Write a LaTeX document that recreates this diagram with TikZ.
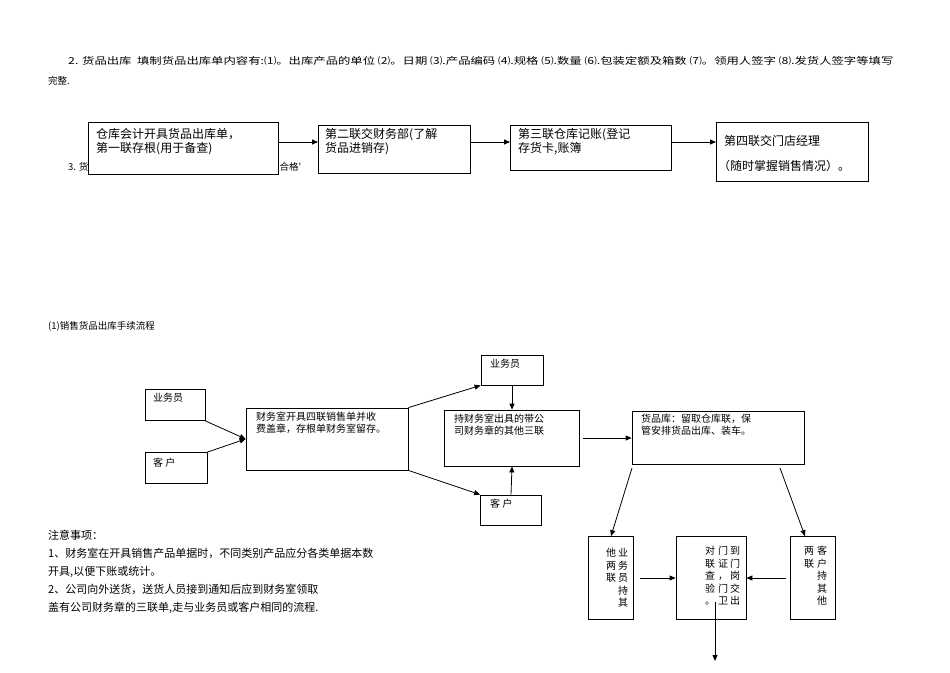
\documentclass[tikz,border=0pt]{standalone}
\usepackage{fontspec}
\setmainfont{Liberation Serif}
\newfontfamily\cjk{Noto Sans CJK SC}
\usetikzlibrary{arrows.meta}
\newcommand{\vc}[1]{\begin{tabular}{@{}c@{}}#1\end{tabular}}
\begin{document}
\begin{tikzpicture}[x=1pt,y=-1pt,
 bx/.style={draw,thick,fill=white},
 ar/.style={-{Triangle[length=6pt,width=5pt]},thick},
 tx/.style={anchor=north west,inner sep=0pt,font=\cjk\fontsize{9.5}{12}\selectfont},
 tb/.style={anchor=north west,inner sep=0pt,font=\cjk\fontsize{12}{14}\selectfont,align=left},
 ts/.style={anchor=north west,inner sep=0pt,font=\cjk\fontsize{10}{12}\selectfont,align=left},
 vt/.style={anchor=north,inner sep=0pt,font=\cjk\fontsize{10}{12.5}\selectfont}]
\useasboundingbox (0,0) rectangle (950,672);
\node[tx] (h1) at (68,56) {\scalebox{1.3}[1]{2. 货品出库\ \ 填制货品出库单内容有:⑴。出库产品的单位 ⑵。日期 ⑶.产品编码 ⑷.规格 ⑸.数量 ⑹.包装定额及箱数 ⑺。领用人签字 ⑻.发货人签字等填写}};
\node[tx] (h2) at (48,76) {完整.};
\node[tx] (h3) at (68,162) {3. 货};
\node[tx] (h4) at (270,162) {量合格'};
% top row
\draw[bx] (88,122) rectangle (278,174); \node[tb] (t1) at (96,128) {仓库会计开具货品出库单，\\第一联存根(用于备查)};
\draw[bx] (318,125) rectangle (470,173); \node[tb] (t2) at (325,128) {第二联交财务部(了解\\货品进销存)};
\draw[bx] (510,125) rectangle (671,170); \node[tb] (t3) at (518,128) {第三联仓库记账(登记\\存货卡,账簿};
\draw[bx] (716,122) rectangle (868,181); \node[tb] (t4) at (724,135) {第四联交门店经理};
\node[tb] (t4b) at (718,160) {（随时掌握销售情况）。};
\coordinate (a1s) at (278,142); \coordinate (a1e) at (318,142);
\coordinate (a2s) at (470,142); \coordinate (a2e) at (510,142);
\coordinate (a3s) at (671,142); \coordinate (a3e) at (716,142);
\draw[ar] (a1s) -- (a1e); \draw[ar] (a2s) -- (a2e); \draw[ar] (a3s) -- (a3e);
\node[tx] (sec) at (48,321) {(1)销售货品出库手续流程};
% flow
\node[bx,minimum width=60pt,minimum height=31pt,inner sep=0pt] (y1) at (175,405) {};
\node[ts] at (153,393) {业务员};
\node[bx,minimum width=62pt,minimum height=31pt,inner sep=0pt] (k1) at (176,468) {};
\node[ts] at (153,458) {客\ 户};
\node[bx,minimum width=162pt,minimum height=62pt,inner sep=0pt] (m) at (327,439) {};
\node[ts] at (256,412) {财务室开具四联销售单并收\\费盖章，存根单财务室留存。};
\node[bx,minimum width=62pt,minimum height=30pt,inner sep=0pt] (y2) at (512,370) {};
\node[ts] at (490,359) {业务员};
\node[bx,minimum width=135pt,minimum height=56pt,inner sep=0pt] (c) at (512,438) {};
\node[ts] at (454,414) {持财务室出具的带公\\司财务章的其他三联};
\node[bx,minimum width=61pt,minimum height=30pt,inner sep=0pt] (k2) at (511,510) {};
\node[ts] at (490,499) {客\ 户};
\node[bx,minimum width=172pt,minimum height=53pt,inner sep=0pt] (w) at (718,438) {};
\node[ts] at (641,414) {货品库：留取仓库联，保\\管安排货品出库、装车。};
\draw[ar] (y1.south east) -- (m.west);
\draw[ar] (k1.north east) -- (m.west);
\draw[ar] (m.north east) -- (y2.south west);
\draw[ar] (m.south east) -- (k2.north west);
\draw[ar] (y2.south) -- (c.north);
\draw[ar] (k2.north) -- (c.south);
\coordinate (cr) at (583,438);
\draw[ar] (cr) -- (w.west);
% bottom boxes
\node[bx,minimum width=45pt,minimum height=83pt,inner sep=0pt] (L) at (611,578) {};
\node[bx,minimum width=70pt,minimum height=83pt,inner sep=0pt] (M) at (711,578) {};
\node[bx,minimum width=45pt,minimum height=83pt,inner sep=0pt] (R) at (813,578) {};
\coordinate (w1) at (632,468); \coordinate (w2) at (788,468);
\draw[ar] (w1) -- (L.north);
\draw[ar] ([xshift=-8pt]w2) -- ([xshift=-8pt]R.north);
\draw[ar] ([xshift=6pt]L.east) -- (M.west);
\draw[ar] ([xshift=-4pt]R.west) -- (M.east);
\coordinate (mo) at (715,661);
\draw[ar] (715,602) -- (mo);
\node[vt] at (623,548) {\vc{业\\务\\员\\持\\其}};
\node[vt] at (611,548) {\vc{他\\两\\联}};
\node[vt] at (735,546) {\vc{到\\门\\岗\\交\\出}};
\node[vt] at (723,546) {\vc{门\\证\\，\\门\\卫}};
\node[vt] at (710,546) {\vc{对\\联\\查\\验\\。}};
\node[vt] at (822,546) {\vc{客\\户\\持\\其\\他}};
\node[vt] at (809,546) {\vc{两\\联}};
% notes
\node[tx,align=left,font=\cjk\fontsize{11}{18}\selectfont] (n) at (48,530) {注意事项：\\1、财务室在开具销售产品单据时，不同类别产品应分各类单据本数\\开具,以便下账或统计。\\2、公司向外送货，送货人员接到通知后应到财务室领取\\盖有公司财务章的三联单,走与业务员或客户相同的流程.};
\end{tikzpicture}
\end{document}
